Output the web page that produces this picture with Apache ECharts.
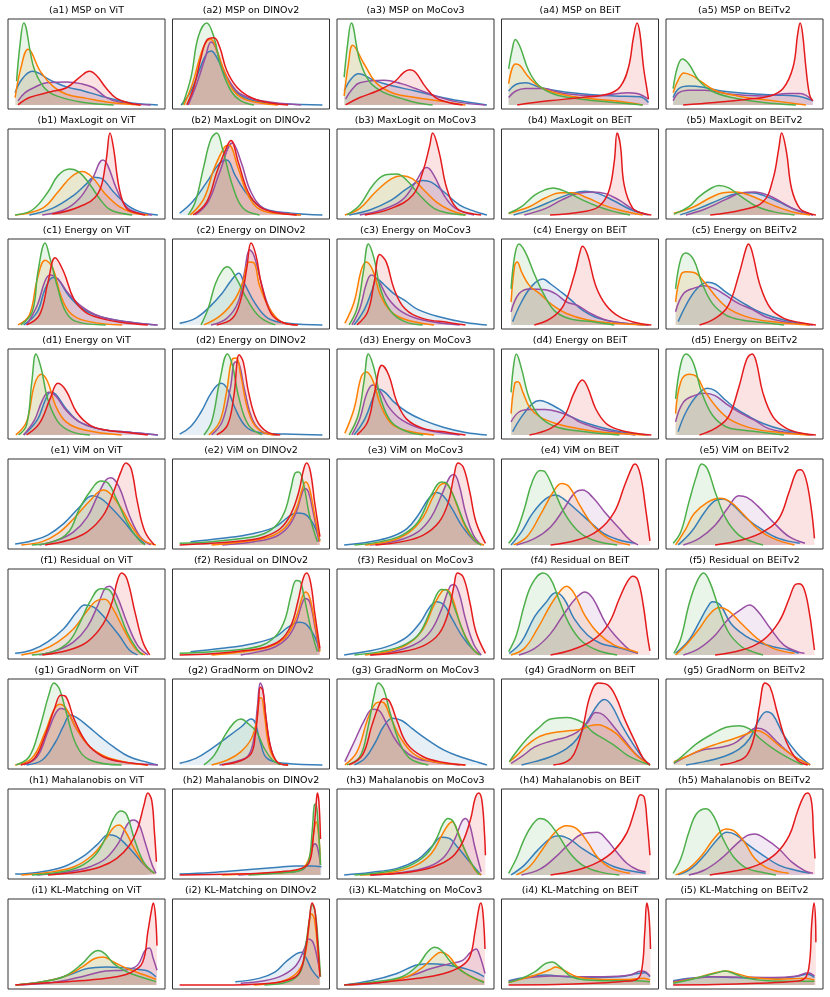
<!DOCTYPE html>
<html><head><meta charset="utf-8">
<script src="https://cdn.jsdelivr.net/npm/echarts@6/dist/echarts.min.js"></script>
<style>html,body{margin:0;padding:0;background:#fff}#c{width:830px;height:997px}</style>
</head><body><div id="c"></div>
<script>
// Row / column labels
const rowLetters = ['a','b','c','d','e','f','g','h','i'];
const methods = ['MSP','MaxLogit','Energy','Energy','ViM','Residual','GradNorm','Mahalanobis','KL-Matching'];
const models = ['ViT','DINOv2','MoCov3','BEiT','BEiTv2'];
// series order inside each panel: red, green, orange, blue, purple  ([score, density] pairs)
const A1=[[[2,0],[10,9],[25,16],[36,21],[46,35],[52,41],[57,36],[64,20],[71,8],[83,1],[88,0]],[[1,29],[3.5,75],[6,100],[13,46],[20,22],[29,11],[48,3],[69,0]],[[0,9],[4,45],[9,68],[18,40],[27,22],[36,13],[50,8],[67,3],[88,0]],[[0,15],[5,32],[12,41],[25,30],[36,22],[48,17],[60,11],[71,6],[83,2],[100,0]],[[2,5],[7,15],[13,21],[22,27],[36,28],[46,26],[55,21],[64,9],[74,3],[95,0]]];
const A2=[[[5,0],[10,22],[15,58],[19,79],[24,82],[28,71],[33,42],[40,22],[50,9],[62,3],[76,0]],[[2,0],[8,34],[13,83],[19,100],[24,83],[29,46],[36,17],[43,5],[52,0]],[[3,0],[9,26],[15,63],[19,78],[22,80],[26,67],[32,38],[38,17],[47,6],[69,0]],[[1,0],[8,17],[15,48],[19,63],[22,66],[26,58],[32,36],[40,15],[52,5],[73,1],[100,0]],[[6,0],[12,26],[18,58],[22,77],[25,71],[30,46],[36,26],[43,13],[57,5],[85,0]]];
const A3=[[[1,0],[11,9],[23,17],[35,28],[42,40],[46,43],[50,40],[57,22],[64,9],[73,3],[83,0]],[[0,34],[2.5,75],[5,100],[11,54],[18,28],[28,15],[40,8],[50,3],[62,0]],[[0,11],[3,50],[6,73],[14,50],[23,26],[35,14],[50,9],[66,5],[85,0]],[[0,17],[5,32],[10,38],[21,30],[32,24],[50,17],[64,11],[81,5],[100,0]],[[1,7],[6,20],[11,27],[28,30],[40,26],[50,20],[64,11],[78,4],[99,0]]];
const A4=[[[6,0],[28,5],[51,9],[69,13],[78,22],[84,46],[87.5,83],[90,100],[92,87],[94.5,46],[97,18],[98,7]],[[0,44],[2.4,67],[4.7,80],[8,71],[14,42],[21,24],[32,13],[51,7],[74,3],[94,0]],[[0,26],[4.7,50],[8,48],[14,34],[23,21],[37,13],[55,8],[74,5],[94,0]],[[0,17],[5,25],[12,27],[21,22],[35,17],[55,13],[74,11],[92,10],[98,3]],[[0,9],[5,17],[12,20],[23,20],[39,14],[62,11],[83,15],[90,14],[98,7]]];
const A5=[[[7,0],[29,3],[52,7],[68,11],[77,20],[84,46],[87.3,87],[89,100],[90.7,87],[93,46],[95.5,13],[97.7,5]],[[0,20],[3,46],[6.4,56],[11,50],[18,30],[27,17],[41,9],[63,3],[86,0]],[[0,15],[4,32],[7.5,39],[13,36],[20,28],[29,18],[45,11],[66,6],[93,0]],[[0,9],[4,20],[11,23],[20,22],[34,17],[52,14],[70,12],[86,11],[98,5]],[[0,5],[4,15],[11,18],[22,18],[41,13],[63,11],[81,14],[89,14],[98,5]]];
const B1=[[[26,1],[45,10],[58,26],[63.5,64],[66.5,100],[69,81],[73,32],[78,8],[86,2],[91,0]],[[0,0],[12,6],[23,28],[30,48],[38,56],[45,52],[52,38],[60,18],[67,6],[82,0]],[[0,0],[19,8],[30,28],[39,46],[47,53],[54,46],[63,26],[73,10],[82,3],[93,0]],[[10,0],[26,8],[41,24],[50,38],[55,46],[61,44],[69,28],[80,10],[89,3],[100,0]],[[19,0],[34,6],[45,20],[54,44],[61.5,67],[65,60],[71,32],[78,10],[87,2],[96,0]]];
const B2=[[[9.5,0],[19,16],[26,52],[33.5,85],[36,91],[41,65],[48,28],[56,10],[67,3],[82,0]],[[6,0],[11,16],[17,60],[22,93],[26,100],[30,81],[37,36],[44.5,8],[56,0]],[[7.5,0],[17,20],[24,56],[31.5,83],[34.5,85],[41,57],[48,24],[57,6],[74,1],[85,0]],[[0,2],[9,16],[19,40],[28,63],[33,67],[39,48],[48,24],[59,8],[78,2],[100,0]],[[11,0],[20,16],[28,52],[37,88],[43,65],[50,28],[59,8],[74,2],[85,0]]];
const B3=[[[14.5,0],[33,8],[48,24],[55,52],[60,85],[62,100],[66.5,77],[72,32],[79,8],[88,2],[96,0]],[[2,0],[11,12],[20,36],[29,49],[37,50],[44,42],[53,24],[63,8],[74,2],[85,0]],[[0.5,0],[11,8],[22,28],[33,44],[40.5,48],[48,44],[55,32],[64.5,16],[74,6],[85,0]],[[3.5,0],[18,6],[33,18],[44,32],[55,42],[61,40],[70,28],[81,12],[92,4],[100,0]],[[11,0],[26,6],[40.5,18],[50,40],[55.5,56],[58,58],[63,48],[70,24],[78,8],[91,0]]];
const B4=[[[29,0],[52,4],[63,10],[70,28],[74,65],[76,100],[78.3,85],[81,36],[87,8],[94,2],[100,0]],[[0,2],[9,10],[18,24],[26,31],[31,33],[40.5,28],[52,18],[63,10],[74,4],[85,0]],[[0,2],[14.5,10],[26,21],[37,27],[44,27],[55,21],[66.5,12],[77.5,6],[94,0]],[[3.5,0],[18,8],[33,19],[44,26],[53.5,29],[63,26],[74,17],[85,7],[98,0]],[[11,0],[26,8],[37,18],[48,26],[59,28],[68,26],[77.5,18],[87,7],[96,0]]];
const B5=[[[26,0],[48,6],[63,16],[70,44],[74,81],[76,100],[79.4,77],[83,32],[88.7,8],[95,2],[100,0]],[[0.5,1],[11,10],[18,22],[26,32],[32,36],[39,33],[48,22],[59,10],[70,4],[85,0]],[[0.5,2],[14.5,10],[26,21],[35,27],[44,28],[53.5,24],[63,17],[74,9],[85,3],[96,0]],[[5,0],[18,8],[33,19],[44,26],[55,27],[64.5,23],[74,16],[85,7],[98,0]],[[9,0],[22,7],[37,19],[48,27],[57,28],[66.5,24],[75.5,16],[85,7],[98,0]]];
const C1=[[[8,0],[17,12],[23,52],[28,82],[34,65],[41,32],[49,16],[60,8],[75,3],[93,0]],[[4,0],[12,16],[16,65],[21,100],[24.5,81],[30,44],[35.5,16],[43,4],[63.5,0]],[[2,0],[10,12],[15.5,56],[21,79],[26.5,69],[32,36],[39,14],[52,4],[75,0]],[[6,0],[15.5,16],[21,44],[26.5,58],[30,56],[37.5,36],[47,20],[60,10],[78,4],[99,0]],[[8,0],[15.5,24],[21,54],[24.5,61],[30,56],[37.5,38],[47,22],[60,10],[82,3],[100,0]]];
const C2=[[[26,0],[37,8],[43,32],[47,69],[50,100],[53.5,85],[57.5,48],[64,14],[72,3],[83,0]],[[15,0],[20,20],[25,50],[30,67],[33.5,71],[40,56],[47,32],[56,10],[67,0]],[[17,0],[29,12],[39,32],[44.5,54],[48.5,77],[52,76],[56,48],[63,20],[71,4],[82,0]],[[0,2],[11,8],[21,22],[29.5,38],[36,54],[41.5,63],[45,52],[53,26],[62,8],[76,2],[100,0]],[[22,0],[33,8],[41,28],[45.5,65],[49,92],[52,85],[56.5,56],[63,20],[71,4],[82,0]]];
const C3=[[[9,0],[16.5,16],[21,52],[25,86],[29.5,77],[35,44],[42.5,20],[55,8],[73,3],[85,0]],[[3.5,0],[9,20],[13.5,65],[17,99],[21,81],[25.5,44],[33,16],[42.5,4],[55,0]],[[0.5,2],[7,28],[12,67],[15.5,77],[20,67],[25.5,36],[33,16],[44,6],[63,0]],[[7,0],[14.5,20],[19.5,42],[23,56],[27.5,50],[35,38],[42.5,30],[51.5,19],[66.5,10],[85,3],[100,0]],[[5.5,0],[11,20],[15.5,50],[19,61],[24,54],[31,32],[40.5,16],[55,6],[81,0]]];
const C4=[[[18,0],[29.5,8],[38.5,24],[46,61],[50,89],[51.7,96],[55.4,85],[61,48],[68.3,24],[77.5,10],[88.7,3],[100,0]],[[1.7,44],[4.3,85],[7.2,99],[11.7,89],[18.3,61],[25.7,34],[33,16],[44,7],[59,4],[74,0]],[[1.7,28],[4.3,73],[6,77],[9,65],[14.6,48],[22,38],[29.4,26],[40.6,14],[55.4,6],[74,2],[96,0]],[[2.8,4],[9,28],[16.5,48],[24,56],[29.4,50],[37,40],[44,30],[51.7,18],[63,8],[81,2],[98,0]],[[1.7,16],[7.2,38],[14.6,44],[25.7,43],[33,38],[40.6,28],[48,24],[55.4,16],[66.5,7],[81,2],[98,0]]];
const C5=[[[18.5,0],[29.4,8],[38.7,24],[46,61],[51,93],[52.8,99],[55.4,89],[61,48],[68.3,20],[77.6,8],[88.7,3],[100,0]],[[1.7,44],[5.4,81],[9,88],[14.6,79],[20,52],[27.6,26],[37,12],[48,6],[63,3],[77.6,0]],[[1.7,28],[5.4,61],[9,65],[14.6,64],[22,52],[31.3,32],[40.6,18],[55.4,8],[74,3],[96,0]],[[3.5,4],[9,24],[16.5,44],[24,52],[29.4,50],[37,40],[44,32],[51.7,24],[63,14],[77.6,6],[96,0]],[[1.7,16],[7.2,38],[14.6,45],[22,48],[29.4,44],[37,36],[46,26],[55.4,19],[64.6,10],[77.6,4],[98,0]]];
const D1=[[[8,0],[17,14],[24.5,44],[30,63],[35.7,54],[43,28],[52.4,12],[63.5,6],[78,3],[93,0]],[[2.4,0],[8,12],[11.7,65],[14.6,99],[18.3,81],[22.8,44],[30,16],[39.4,4],[52.4,0]],[[0.5,0],[8,16],[13.5,61],[18.3,74],[22.8,65],[28.3,36],[35.7,16],[48.7,6],[74.6,0]],[[6,0],[15.4,18],[21,42],[24.6,52],[28.3,50],[35.7,32],[45,16],[60,7],[82,3],[100,0]],[[6,0],[13.5,18],[19,42],[23.5,52],[28.3,48],[35.7,30],[45,16],[60,7],[82,3],[100,0]]];
const D2=[[[26,0],[33.5,12],[38,48],[41.7,98],[44.6,89],[48.3,52],[54,18],[61,4],[70.5,0]],[[17,0],[22.4,16],[28,65],[33.5,99],[37,85],[41.7,44],[48.3,12],[57.6,0]],[[20.5,0],[28,16],[32.8,52],[37,93],[39.8,94],[42.8,73],[48.3,28],[55.7,6],[66.8,0]],[[0,1],[7.6,10],[15,28],[22.4,52],[29,63],[33.5,56],[39,32],[46.5,10],[55.7,3],[74,1],[100,0]],[[22.4,0],[29.8,16],[35.4,56],[39,89],[41.7,87],[45.4,56],[51.3,18],[59,3],[68.7,0]]];
const D3=[[[9,0],[16.5,16],[21.3,52],[26.5,85],[31.3,73],[37,40],[44,19],[55.4,8],[73,3],[85,0]],[[3.5,0],[9.8,24],[13.9,65],[17,99],[21,81],[25.7,44],[33,16],[44,4],[55.4,0]],[[0.5,2],[7,32],[12,71],[15.7,77],[20,67],[25.7,36],[33,14],[44,5],[63,0]],[[7,0],[14.6,20],[20,44],[23.7,56],[28.7,52],[35,40],[44,28],[55.4,18],[70,9],[85,3],[100,0]],[[5.4,0],[11,20],[15.7,50],[20,61],[25,54],[31.3,34],[40.6,18],[55.4,7],[81,0]]];
const D4=[[[14.6,0],[29.4,8],[38.7,22],[46,52],[51.7,67],[55.4,58],[61,32],[68.3,14],[77.6,6],[88.7,2],[100,0]],[[1.7,52],[3.5,85],[5.4,99],[9,81],[14.6,44],[22,22],[33,10],[48,5],[63,2],[77.6,0]],[[1.7,26],[4.3,63],[6.5,65],[10,52],[14.6,34],[22,22],[33,14],[48,8],[63,4],[96,0]],[[2.8,4],[9,22],[16.5,38],[22,42],[27.6,39],[35,32],[44,22],[55.4,14],[70,7],[85,2],[98,0]],[[1.7,16],[7.2,28],[14.6,31],[25.7,31],[35,28],[44,22],[49.4,16],[55.4,12],[66.5,6],[88.7,0]]];
const D5=[[[18.5,0],[29.4,8],[38.7,22],[46,58],[51.7,93],[55.4,99],[58.3,89],[62.8,52],[70,22],[79.4,8],[90,2],[100,0]],[[1.7,44],[5.4,87],[9,99],[13.9,89],[20,52],[27.6,24],[37,10],[48,6],[63,3],[77.6,0]],[[1.7,26],[5.4,65],[11,74],[16.5,71],[22,54],[31.3,32],[40.6,18],[55.4,8],[74,3],[96,0]],[[3.5,4],[9,28],[16.5,48],[24,57],[29.4,54],[37,42],[44,32],[51.7,24],[63,14],[77.6,6],[96,0]],[[1.7,16],[7.2,40],[14.6,48],[22,51],[29.4,48],[38.7,36],[48,26],[57,18],[66.5,8],[80,3],[98,0]]];
const E1=[[[21,0],[37.6,6],[50.5,16],[61.7,36],[69,65],[74,89],[77.6,100],[81.3,93],[85.7,52],[91,16],[97.6,0]],[[11.7,0],[26.5,4],[37.6,16],[45,44],[52.4,65],[60,78],[65.4,75],[71,56],[78.3,28],[85.7,8],[91,0]],[[4.3,0],[19,4],[30,14],[41,32],[52.4,54],[61.7,67],[67,62],[74.6,44],[82,22],[89.4,6],[98.7,0]],[[0,1],[11.7,5],[22.8,12],[34,26],[45,46],[54,60],[60,57],[67,46],[76.5,28],[84,12],[91,1]],[[17,0],[30,6],[41,16],[50.5,34],[58,61],[63.5,79],[67,82],[72.8,71],[80,36],[87.6,10],[95,0]]];
const E2=[[[0,0],[22.4,2],[44.6,5],[59.4,10],[70.6,20],[78,38],[83.5,65],[87,93],[89,100],[91.7,89],[94.6,52],[98.3,10]],[[0,2],[22.4,4],[44.6,8],[59.4,14],[68.7,26],[74.3,44],[78,69],[81,88],[83.5,89],[87,73],[91,36],[96.5,4]],[[22.4,0],[44.6,4],[63,10],[74.3,22],[81.7,44],[86,69],[88.3,77],[91,69],[94.6,36],[98.3,4]],[[7.6,4],[29.8,8],[52,14],[67,22],[76,34],[81.7,39],[87,38],[92.8,28],[98.3,6]],[[29.8,0],[52,4],[67,10],[76,22],[81.7,40],[85.4,61],[87.6,69],[90.2,65],[94,36],[97.6,4]]];
const E3=[[[22,0],[40.6,4],[55.4,12],[66.5,28],[73,52],[77,85],[79.8,100],[83.5,95],[88,65],[92.4,28],[99,2]],[[7.2,0],[25.7,4],[40.6,12],[51.7,28],[61,61],[68.3,77],[72,75],[77.6,56],[85,24],[92.4,4],[96,0]],[[14.6,0],[33,5],[46,16],[55.4,34],[63,61],[69.4,75],[73,73],[78.3,52],[85,22],[92.4,4],[98,0]],[[0,0],[18.3,4],[33,10],[44,20],[51.7,36],[59,56],[64.6,64],[69.4,60],[75.7,44],[83,22],[90.6,6],[96,0]],[[18.3,0],[37,5],[51.7,16],[61,34],[68.3,61],[74,83],[77,86],[80.6,73],[85,40],[90.6,12],[96,0]]];
const E4=[[[29.4,0],[48,6],[63,18],[74,40],[81.3,73],[87,97],[88.7,99],[92.4,85],[96,44],[99,5]],[[0,2],[5.4,16],[11,44],[16.5,77],[22,91],[25.7,89],[31.3,69],[38.7,40],[48,18],[59,6],[76,0]],[[3.5,0],[12.8,10],[22,36],[31.3,65],[37,75],[42.4,71],[50,48],[59,24],[70,8],[85,0]],[[1.7,0],[9,16],[16.5,38],[25.7,56],[33,61],[38.7,56],[48,42],[57,28],[66.5,14],[77.6,6],[88.7,2]],[[5.4,0],[18.3,8],[29.4,22],[38.7,44],[46,63],[51.7,67],[59,58],[68.3,38],[77.6,20],[85,6],[90.7,0]]];
const E5=[[[29.4,0],[48,6],[63,16],[74,32],[81.3,65],[87,91],[89.4,92],[93,81],[96.8,44],[99,8]],[[0,2],[5.4,16],[11,52],[16.5,85],[20,99],[24,93],[29.4,65],[37,32],[46,12],[55.4,4],[63,0]],[[1.7,0],[9,20],[14.6,38],[24,52],[33,57],[40.6,52],[50,36],[59,20],[70,8],[85,0]],[[3.5,0],[12.8,16],[22,40],[29.4,54],[35,56],[42.4,48],[51.7,32],[63,18],[74,8],[88.7,2]],[[7.2,0],[18.3,8],[29.4,24],[38.7,46],[46,60],[51.7,58],[59,48],[70,28],[81.3,10],[92.4,2]]];
const F1=[[[19,0],[37.6,6],[50.5,16],[61.7,38],[68,65],[71.7,91],[74.6,100],[78.3,93],[84,52],[89.4,16],[94.3,0]],[[11.7,0],[26.5,4],[37.6,16],[45,38],[52.4,65],[60,81],[65.4,80],[71,61],[78.3,28],[85.7,6],[89.4,0]],[[4.3,0],[19,6],[30,16],[41,32],[50.5,54],[58,67],[62.8,68],[68,58],[76.5,30],[84,8],[91,0]],[[0,2],[11.7,6],[22.8,16],[34,32],[43,52],[48.7,61],[55.4,58],[63.5,44],[72.8,24],[80,6],[85.7,0]],[[17,0],[30,6],[41,16],[50.5,34],[58,61],[62.8,81],[66,84],[71,73],[78.3,40],[85.7,12],[93,0]]];
const F2=[[[0,0],[22.4,1.5],[44.6,5],[59.4,9],[70.6,18],[78,36],[82.8,65],[86.5,93],[89,100],[91.7,89],[94.6,52],[98.3,8]],[[0,2],[22.4,4],[44.6,7],[59.4,13],[68.7,26],[74.3,46],[78,73],[81.7,91],[84.3,90],[87,73],[92,32],[96.5,4]],[[22.4,0],[44.6,4],[63,10],[74.3,22],[81.7,46],[86,71],[88.3,77],[91.3,69],[95,36],[98.3,4]],[[7.6,4],[29.8,8],[52,14],[67,22],[76,34],[83.5,40],[88.3,38],[93.5,26],[98.3,6]],[[42.8,0],[55.7,4],[67,10],[76,22],[81.7,40],[85.4,61],[88,69],[91,65],[94.6,36],[97.6,4]]];
const F3=[[[18.3,0],[40.6,4],[55.4,11],[66.5,26],[73,52],[77,85],[79.4,100],[83.5,95],[88,65],[92.4,28],[99,2]],[[7.2,0],[25.7,4],[40.6,11],[51.7,24],[59,48],[64.6,73],[68.3,80],[72,79],[77.6,56],[85,22],[91.7,4],[95,0]],[[14.6,0],[33,5],[46,15],[55.4,32],[63,61],[68.7,78],[71.7,80],[76,69],[81.7,36],[89,10],[94.6,0]],[[0,0],[18.3,5],[33,12],[44,22],[53.5,40],[59.8,58],[64.6,65],[70,61],[75.7,44],[83,22],[90.6,6],[96,0]],[[18.3,0],[37,5],[51.7,15],[61,30],[68.3,56],[74,83],[77,86],[80.6,75],[85,44],[90.6,14],[96,0]]];
const F4=[[[29.4,0],[44,6],[59,18],[70,38],[77.6,69],[83,89],[87,96],[90.6,91],[94.3,61],[97.2,24],[99,5]],[[0,4],[5.4,24],[11,61],[16.5,87],[24,100],[29.4,93],[35,69],[42.4,38],[51.7,16],[63,5],[76,0]],[[1.7,0],[11,8],[20.2,32],[29.4,61],[37,80],[40.6,84],[46,75],[53.5,48],[63,26],[74,12],[85,6],[90.6,3]],[[0.5,2],[9,16],[18.3,47],[25.7,63],[33,76],[38.7,69],[46,44],[55.4,24],[64.6,14],[74,10],[83,6],[90.6,2]],[[7.2,0],[18.3,8],[29.4,26],[38.7,50],[48,71],[53.5,77],[59,69],[68.3,38],[77.6,18],[85,6],[90.6,2]]];
const F5=[[[29.4,0],[48,6],[63,18],[74,40],[81.3,69],[85,85],[88,87],[91.7,81],[95.4,52],[98,20],[99,6]],[[0.5,2],[5.4,20],[11,61],[16.5,89],[21.3,100],[25.7,89],[31.3,61],[38.7,28],[48,10],[55.4,4],[63,0]],[[1.7,0],[9,12],[18.3,32],[25.7,50],[32.4,58],[38.7,54],[48,38],[59,20],[70,8],[85,2]],[[1.7,2],[11,18],[18.3,40],[24,58],[27.6,65],[33,61],[40.6,38],[50,24],[59,16],[70,10],[81.3,6],[88,2]],[[7.2,0],[18.3,8],[29.4,24],[38.7,44],[48,56],[53.5,61],[59,54],[68.3,32],[77.6,12],[87,4],[92,2]]];
const G1=[[[4,0],[13.5,8],[21,36],[27.6,69],[32,85],[35.7,83],[41.3,56],[50.5,26],[61.7,10],[74.6,4],[93,0]],[[0.5,0],[9.8,10],[17,44],[23.5,85],[27.2,100],[31,93],[35.7,65],[43,24],[52.4,6],[74.6,0]],[[0,0],[11.7,8],[21,40],[26.5,65],[31,74],[35.7,69],[43,44],[52.4,22],[63.5,10],[78.3,3],[93,0]],[[8,0],[19,6],[28.3,28],[34,48],[38.7,61],[43,58],[50.5,48],[60,34],[69,22],[80,10],[93,3],[100,0]],[[6,0],[15.4,10],[22.8,40],[28.3,63],[32,69],[36.8,65],[43,44],[52.4,22],[63.5,9],[78,3],[100,0]]];
const G2=[[[29.8,0],[42.8,5],[50.2,14],[53,36],[55,69],[56.5,95],[58.3,91],[60.6,56],[64,20],[68.7,3],[76,0]],[[17,0],[24.3,12],[31.7,36],[38.3,52],[42.8,56],[48.3,50],[54,40],[59.4,20],[65,6],[70.6,0]],[[22.4,0],[33.5,6],[42.8,16],[50.2,32],[54,54],[55.7,81],[57.2,82],[59.4,61],[63,20],[68.7,3],[76,0]],[[0,2],[11.3,8],[22.4,20],[33.5,34],[42.8,46],[50.2,56],[52.8,52],[56.5,28],[61.3,8],[74,2],[100,0]],[[28,0],[41,5],[48.3,12],[52,32],[54.6,73],[56.5,100],[58.3,93],[60.6,56],[64,20],[68.7,3],[76,0]]];
const G3=[[[3.5,0],[12.8,12],[19.4,48],[24,71],[27.6,81],[31.3,79],[37,54],[44,26],[55.4,10],[70,3],[85,0]],[[2,0],[11,10],[16.5,44],[21,85],[24,100],[27.6,93],[32,65],[38.7,28],[46,8],[59,0]],[[0.5,0],[9,16],[16.5,56],[22,75],[26.5,77],[33,56],[40.6,30],[51.7,10],[66,3],[85,0]],[[7.2,0],[14.6,8],[22,28],[27.6,47],[33.9,57],[40.6,54],[48,44],[59,30],[70,18],[81.3,10],[92.4,4],[100,0]],[[0.5,4],[7,28],[14.6,56],[20,68],[24,67],[29.4,52],[37,28],[48,10],[62,4],[81,0]]];
const G4=[[[31.3,0],[40.6,4],[46,14],[51.7,44],[57.2,85],[62.8,100],[70,97],[75.7,81],[81.3,56],[88.7,28],[94.3,8],[99,0]],[[0.5,4],[5.4,16],[12.8,32],[20.2,44],[29.4,56],[40.6,58],[51.7,52],[59,40],[66.5,32],[74,24],[83,12],[92.4,4],[99,0]],[[0.5,4],[5.4,11],[12.8,24],[22,35],[33,40],[44,42],[51.7,44],[57.2,48],[62.8,49],[68.3,46],[75.7,38],[83,24],[90.6,10],[99,0]],[[9,0],[18.3,4],[29.4,10],[40.6,20],[48,32],[55.4,54],[63,75],[67.2,80],[72,73],[79.4,48],[87,26],[94.3,8],[99,0]],[[1.7,2],[9,10],[18.3,22],[29.4,29],[40.6,34],[48,40],[55.4,52],[61,64],[66.5,61],[74,46],[81.3,30],[88.7,14],[99,0]]];
const G5=[[[33,0],[44,4],[51.7,12],[57,36],[60.6,73],[64.3,100],[68,95],[72.8,65],[79.4,28],[87,6],[94.3,0]],[[0.5,2],[7.2,12],[16.5,26],[27.6,38],[37,46],[46,48],[53.5,44],[61,32],[70,20],[81.3,8],[90.7,0]],[[0.5,4],[9,10],[20,19],[31.3,26],[42.4,32],[51.7,38],[58.3,42],[64.6,38],[74,24],[85,10],[96,0]],[[9,0],[22,4],[35,10],[46,19],[53.5,32],[59.8,54],[65.4,65],[70,61],[77.6,36],[87,14],[96,0]],[[0.5,2],[9,10],[20,18],[31.3,21],[42.4,26],[51.7,38],[58.3,45],[64.6,42],[74,26],[85,10],[96,0]]];
const H1=[[[23,0],[45,4],[59.8,10],[71,20],[80,36],[85.7,56],[90.2,85],[93,100],[95.7,91],[97.6,52],[99,16]],[[11.7,0],[30,3],[45,10],[56,24],[63.5,46],[69,69],[73.9,78],[78.3,73],[83.5,44],[90,16],[97.6,2]],[[4.3,0],[22.8,3],[41.3,10],[54,24],[63.5,44],[69,58],[72.8,61],[77,54],[83.5,32],[91,12],[97.6,2]],[[0,1],[15.4,3],[34,10],[48.7,24],[58,38],[65.4,49],[71,47],[78.3,36],[86.5,20],[93,8],[97.6,2]],[[15.4,0],[37.6,4],[52.4,10],[63.5,20],[72.8,40],[78.3,61],[82.8,67],[86.5,63],[91,40],[96,12],[98.7,2]]];
const H2=[[[0,0],[41,1],[70.6,4],[85.4,8],[91,16],[93.5,44],[95.4,81],[96.5,100],[97.6,89],[98.7,44]],[[48.3,0],[74.3,3],[85.4,6],[90.2,16],[92.8,52],[94.3,85],[95.4,87],[96.9,65],[98.7,12]],[[29.8,0],[59.4,2],[78,4],[87.3,10],[92,28],[94.3,56],[95.7,65],[97.2,52],[98.7,16]],[[0,1],[22.4,3],[44.6,6],[67,9],[81.7,11],[93,11],[99.4,10]],[[41,0],[70.6,3],[85.4,6],[90.2,16],[92.8,32],[94.6,38],[96.5,34],[98.7,12]]];
const H3=[[[18.3,0],[44,3],[62.8,10],[75.7,22],[83,40],[88.7,69],[91.7,93],[94.3,100],[96.5,91],[98.3,52],[99,24]],[[7.2,0],[25.7,3],[44,10],[57,24],[64.6,44],[69.4,63],[72.8,69],[76.5,65],[81.3,44],[88,18],[94.6,0]],[[11,0],[33,3],[49.4,11],[61,26],[68.3,48],[72.8,61],[75.7,65],[79.4,54],[85,28],[91.7,6],[96,0]],[[0,0],[18.3,3],[37,8],[51.7,19],[61,34],[68.3,46],[73.3,45],[79.4,34],[87,18],[92.4,7],[96,0]],[[18.3,0],[40.6,3],[59,10],[70,22],[77.6,44],[82.4,65],[85,69],[88,61],[91.3,36],[96,4]]];
const H4=[[[29.4,0],[48,6],[63,16],[74,30],[83,52],[88.7,81],[92.4,98],[95,95],[97,65],[99,24]],[[0,2],[5.4,20],[11,44],[16.5,61],[22,69],[27.6,65],[35,48],[42.4,28],[51.7,12],[63,4],[77.6,0]],[[5.4,0],[14.6,10],[24,32],[33,53],[40.6,60],[48,56],[55.4,40],[63,20],[72,8],[85,2]],[[1.7,0],[11,12],[20.2,30],[29.4,45],[35,48],[42.4,44],[51.7,32],[63,20],[74,10],[85,5],[96,2]],[[9,0],[22,7],[33,22],[42.4,38],[51.7,50],[62,52],[68.3,44],[75.7,28],[83,14],[90.6,6],[96,4]]];
const H5=[[[25.7,0],[44,5],[59,12],[72,26],[81.3,48],[87,77],[91.7,97],[94.3,100],[97,89],[98.3,52],[99.4,20]],[[0,2],[5.4,20],[11,52],[16.5,75],[23.2,81],[28.7,71],[35,44],[42.4,22],[51.7,8],[63,3],[72,0]],[[1.7,0],[11,8],[20.2,24],[29.4,46],[37,56],[42.4,54],[50,40],[57.2,20],[66.5,8],[81,2]],[[3.5,0],[12.8,8],[22,24],[31.3,44],[37.6,52],[44,49],[51.7,38],[63,24],[74,12],[85,6],[96,2]],[[11,0],[22,6],[33,19],[44,37],[51.7,48],[57.2,50],[64.6,44],[74,32],[83,16],[92.4,5],[98,2]]];
const I1=[[[0,0],[26.5,3],[52.4,6],[71,10],[82,16],[89.4,28],[93,65],[95.7,93],[96.8,100],[98.3,85],[99.4,48]],[[0.5,0],[19,4],[34,10],[47,26],[53.5,38],[58,42],[63,38],[69,26],[78.3,16],[87.6,10],[98.7,4]],[[0.5,0],[19,4],[34,10],[47,22],[55.4,32],[61.7,34],[69,28],[78.3,20],[87.6,14],[98.7,7]],[[0.5,0],[22.8,5],[37.6,12],[50.5,20],[63.5,22],[76.5,21],[85.7,19],[93,17],[98.7,10]],[[4.3,0],[30,4],[48.7,11],[63.5,17],[76.5,18],[85.7,24],[91,42],[94,45],[96.8,32],[99.4,18]]];
const I2=[[[0,0],[29.8,0],[59.4,1.5],[74,5],[83.5,14],[88.3,44],[91,81],[92.8,100],[94.6,93],[96.5,56],[98.3,10]],[[59.4,0],[76,4],[84.6,16],[88.3,48],[91,81],[92.8,98],[95,89],[97.2,48],[98.7,10]],[[52,0],[70.6,4],[81.7,14],[87.3,32],[90.2,65],[92.4,87],[94.3,81],[96.5,48],[98.3,12]],[[39,4],[55.7,8],[67,16],[74.3,28],[81.7,38],[85.4,40],[88.3,34],[92.8,18],[97.6,8]],[[42.8,2],[59.4,5],[72.4,12],[81.7,24],[87.3,44],[90.2,56],[93.5,52],[96.5,32],[98.3,16]]];
const I3=[[[0,0],[25.7,3],[51.7,8],[70,14],[81.3,22],[88,34],[91.7,65],[94.3,93],[95.7,100],[97.2,89],[98.7,44]],[[0,0],[22,4],[40.6,10],[51.7,24],[58.3,40],[63.5,46],[68.3,42],[75.7,26],[85,14],[94.3,6],[98,3]],[[3.5,0],[25.7,4],[44,10],[55.4,22],[63,35],[67.6,40],[73,36],[79.4,22],[88.7,10],[98,4]],[[0,0],[18.3,5],[37,14],[50,24],[59,26],[70,25],[79.4,22],[86.5,19],[94,14],[98,10]],[[3.5,0],[29.4,4],[48,12],[61,20],[74,26],[83,30],[88.7,40],[92.4,44],[95,36],[98.7,14]]];
const I4=[[[0,0],[33,0.5],[59,2],[77.6,4],[88.7,6],[93,16],[95.4,65],[96.8,100],[98.3,85],[99.4,44]],[[0,3],[9,8],[18.3,16],[25.7,26],[30.6,28],[36,22],[44,10],[55.4,6],[70,5],[88.7,5],[99,4]],[[0,3],[11,8],[22,14],[29.4,19],[33,22],[38.7,18],[48,10],[63,7],[81.3,6.5],[94.3,8],[99,6]],[[0,5],[11,9],[25.7,12],[40.6,10],[59,9],[77.6,10],[90.6,14],[95.4,15],[99,10]],[[0,4],[14.6,9],[29.4,11],[48,10],[66.5,10],[85,12],[93,17],[96,16],[99,11]]];
const I5=[[[0,0],[29.4,0.5],[59,2],[81.3,4],[90.6,6],[95,20],[97.2,77],[98.7,100],[99.8,77],[100,52]],[[0,2],[11,6],[22,11],[31.3,15],[36,17],[42.4,14],[51.7,8],[66.5,5],[85,4.5],[99,4.5]],[[0,3],[14.6,8],[27.6,14],[37,17],[44,14],[55.4,9],[74,7],[92.4,8],[99,6]],[[0,5],[11,8],[25.7,10],[44,9],[66.5,8],[85,10],[94.3,13],[99,9]],[[0,4],[14.6,8],[29.4,10],[48,9.5],[70,9],[87,11],[94.3,15],[99,11]]];

const PANELS = [[A1,A2,A3,A4,A5],[B1,B2,B3,B4,B5],[C1,C2,C3,C4,C5],[D1,D2,D3,D4,D5],[E1,E2,E3,E4,E5],[F1,F2,F3,F4,F5],[G1,G2,G3,G4,G5],[H1,H2,H3,H4,H5],[I1,I2,I3,I4,I5]];
const COLORS = ['#e41a1c','#4daf4a','#ff7f00','#377eb8','#984ea3'];
const DRAW_ORDER = [3,4,2,1,0];

const chart = echarts.init(document.getElementById('c'), null, {renderer:'canvas'});
const option = {animation:false, backgroundColor:'#fff', title:[], grid:[], xAxis:[], yAxis:[], series:[]};
const W = 157, H = 90;
for (let r = 0; r < 9; r++) {
  for (let c = 0; c < 5; c++) {
    const idx = r*5 + c;
    const left = 8 + c*164.5, top = 19 + r*110;
    option.grid.push({left:left, top:top, width:W, height:H, show:true, borderColor:'#333', borderWidth:1, backgroundColor:'#fff'});
    option.xAxis.push({gridIndex:idx, type:'value', min:-5, max:105, show:false});
    option.yAxis.push({gridIndex:idx, type:'value', min:-5, max:105, show:false});
    option.title.push({text:'('+rowLetters[r]+(c+1)+') '+methods[r]+' on '+models[c], left:left+W/2, top:top-13, textAlign:'center', padding:0,
      textStyle:{fontSize:9.5, fontWeight:'normal', fontFamily:'DejaVu Sans', color:'#000'}});
    const panel = PANELS[r][c];
    for (const k of DRAW_ORDER) {
      option.series.push({type:'line', xAxisIndex:idx, yAxisIndex:idx, data:panel[k], smooth:0.4, symbol:'none', silent:true,
        lineStyle:{color:COLORS[k], width:1.5}, itemStyle:{color:COLORS[k]}, areaStyle:{color:COLORS[k], opacity:0.12}});
    }
  }
}
chart.setOption(option);
</script></body></html>
